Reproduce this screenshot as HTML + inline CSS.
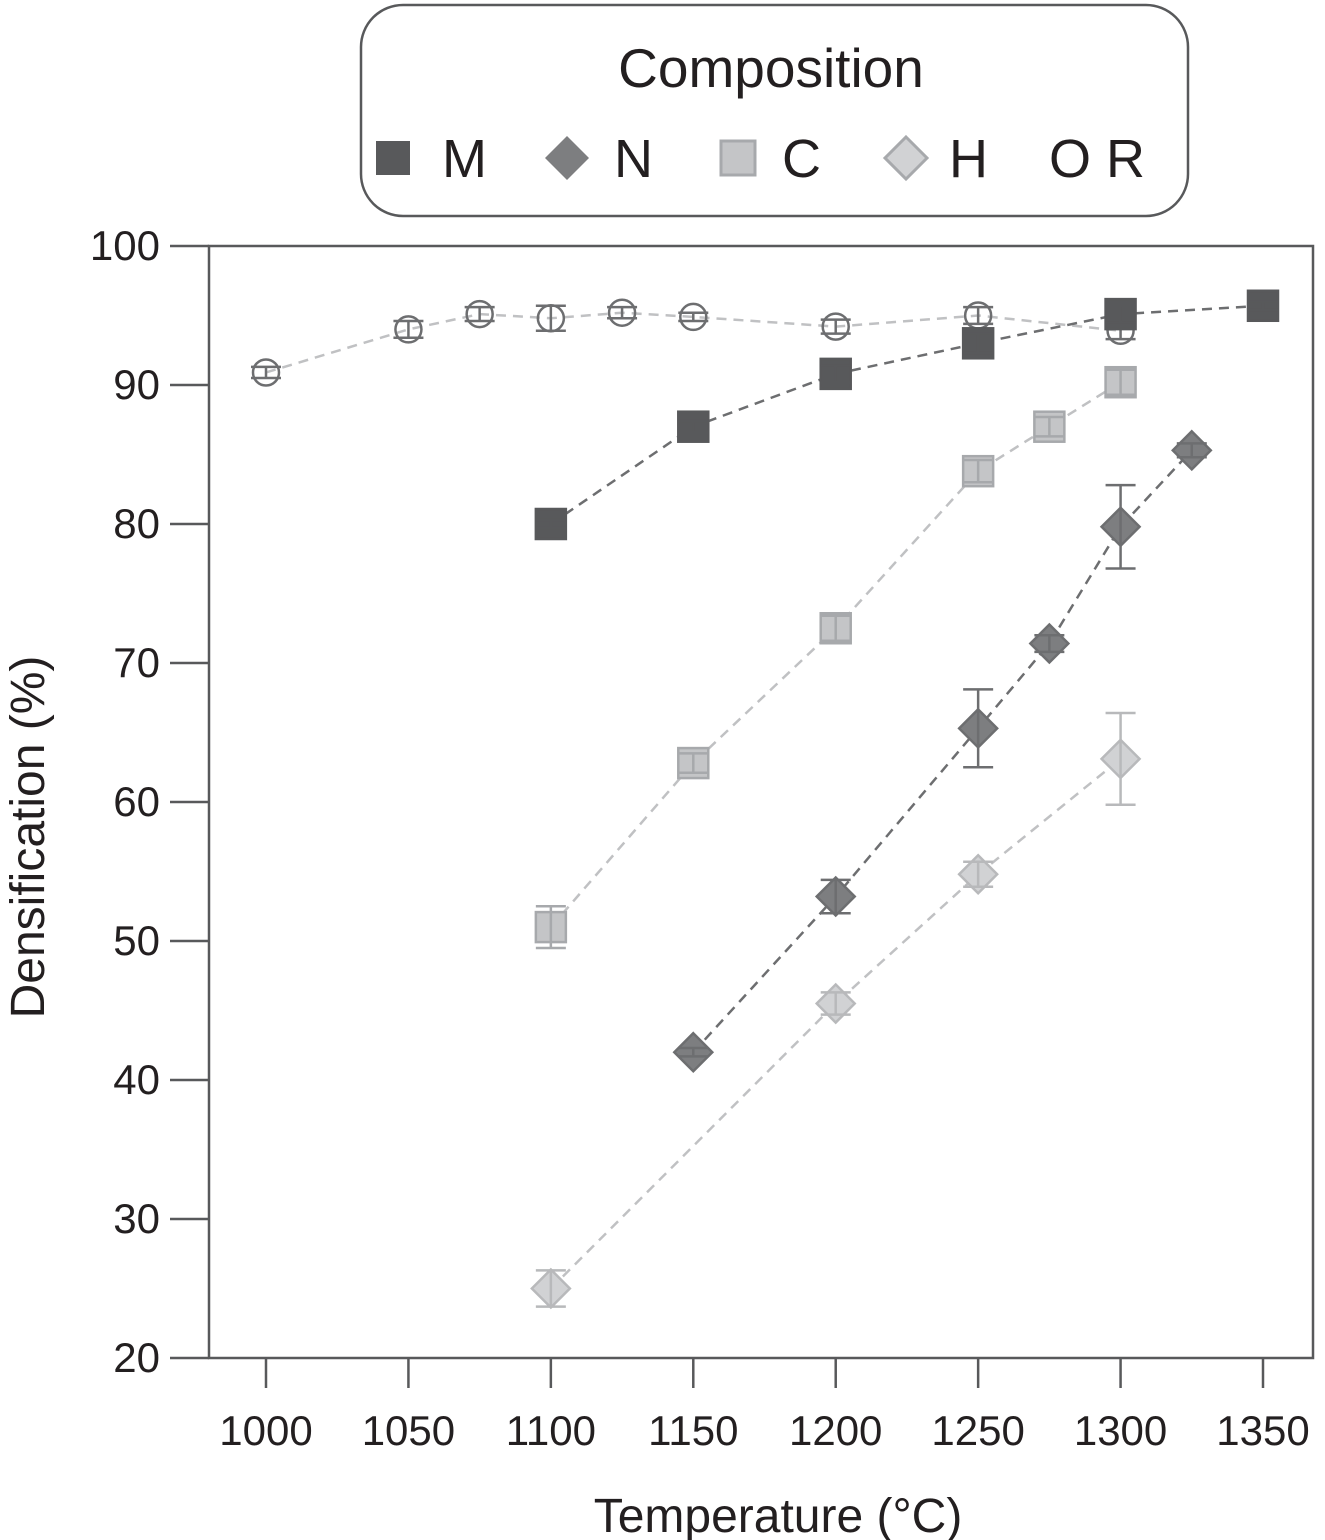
<!DOCTYPE html>
<html><head><meta charset="utf-8"><style>
body{margin:0;background:#fff;}
svg{display:block;font-family:"Liberation Sans",sans-serif;}
</style></head><body>
<svg id="chart" width="1325" height="1540" viewBox="0 0 1325 1540">
<g>
<rect x="361" y="5" width="827" height="211" rx="42" fill="#fff" stroke="#58595b" stroke-width="2.5"/>
<text x="771" y="87" font-size="55" text-anchor="middle" fill="#231f20">Composition</text>
<g><rect x="376" y="141" width="34" height="34" fill="#58595b"/><text x="442" y="177" font-size="54" fill="#231f20">M</text></g>
<g><polygon points="567,136 589,158 567,180 545,158" fill="#7d7e80"/><text x="614" y="177" font-size="54" fill="#231f20">N</text></g>
<g><rect x="721" y="141" width="34" height="34" fill="#c4c5c7" stroke="#a7a9ac" stroke-width="3"/><text x="782" y="177" font-size="54" fill="#231f20">C</text></g>
<g><polygon points="906,137 927,158 906,179 885,158" fill="#d1d2d4" stroke="#a7a9ac" stroke-width="3"/><text x="949" y="177" font-size="54" fill="#231f20">H</text></g>
<g><text x="1049" y="177" font-size="54" fill="#231f20">O R</text></g>
</g>
<rect x="209" y="246" width="1104" height="1112" fill="none" stroke="#58595b" stroke-width="2.5"/>
<g id="axes"></g>
<g id="series"></g>
<text x="778" y="1532" font-size="48" text-anchor="middle" fill="#231f20">Temperature (°C)</text>
<text transform="translate(44,837) rotate(-90)" font-size="48" text-anchor="middle" fill="#231f20">Densification (%)</text>
</svg>
<script>
const xTicks=[1000,1050,1100,1150,1200,1250,1300,1350];
const yTicks=[20,30,40,50,60,70,80,90,100];
const rX=[1000,1050,1075,1100,1125,1150,1200,1250,1300];
const rY=[90.9,94.0,95.1,94.8,95.2,94.9,94.2,95.0,93.9];
const rE=[0.4,0.6,0.5,0.9,0.4,0.3,0.5,0.6,0.6];
const mX=[1100,1150,1200,1250,1300,1350];
const mY=[80.0,87.0,90.8,93.0,95.1,95.7];
const mE=[0.3,0.4,0.6,0.7,0.6,0.3];
const nX=[1150,1200,1250,1275,1300,1325];
const nY=[42.0,53.2,65.3,71.4,79.8,85.3];
const nE=[0.3,1.2,2.8,0.6,3.0,0.5];
const cX=[1100,1150,1200,1250,1275,1300];
const cY=[51.0,62.8,72.5,83.8,87.0,90.2];
const cE=[1.5,0.7,0.9,0.8,0.7,0.9];
const hX=[1100,1200,1250,1300];
const hY=[25.0,45.5,54.8,63.1];
const hE=[1.3,0.8,0.9,3.3];
const NS='http://www.w3.org/2000/svg';
const xs=v=>266+(v-1000)*(1263-266)/350;
const ys=v=>1358-(v-20)*(1358-246)/80;
function mk(t,a,p){const e=document.createElementNS(NS,t);for(const k in a)e.setAttribute(k,a[k]);p.appendChild(e);return e;}
const ax=document.getElementById('axes');
xTicks.forEach(t=>{
 const l=mk('line',{x1:xs(t),x2:xs(t),y1:1358,y2:1388,stroke:'#58595b','stroke-width':2.5},ax);
 
 
 const tx=mk('text',{x:xs(t),y:1445,'font-size':42,'text-anchor':'middle',fill:'#231f20'},ax);tx.textContent=t;
 
 
});
yTicks.forEach(t=>{
 const l=mk('line',{x1:170,x2:209,y1:ys(t),y2:ys(t),stroke:'#58595b','stroke-width':2.5},ax);
 
 
 const tx=mk('text',{x:160,y:ys(t)+14,'font-size':42,'text-anchor':'end',fill:'#231f20'},ax);tx.textContent=t;
 
 
});
const sg=document.getElementById('series');
function series(name,X,Y,E,shape,fill,stroke,lineCol){
 const g=mk('g',{},sg);
 
 
 const pl=mk('polyline',{points:X.map((x,i)=>xs(x)+','+ys(Y[i])).join(' '),fill:'none',stroke:lineCol,'stroke-width':2.5,'stroke-dasharray':'10 7'},g);
 
 
 X.forEach((x,i)=>{
  const cx=xs(x),cy=ys(Y[i]),t=ys(Y[i]+E[i]),b=ys(Y[i]-E[i]);
  let m;
  if(shape==='sq')m=mk('rect',{x:cx-15,y:cy-15,width:30,height:30,fill:fill,stroke:stroke,'stroke-width':2.5},g);
  else if(shape==='di')m=mk('polygon',{points:`${cx},${cy-19} ${cx+19},${cy} ${cx},${cy+19} ${cx-19},${cy}`,fill:fill,stroke:stroke,'stroke-width':2.5},g);
  else m=mk('circle',{cx:cx,cy:cy,r:13,fill:'none',stroke:stroke,'stroke-width':2.5},g);
  
  
  const eb=mk('path',{d:`M${cx-15},${t}H${cx+15}M${cx},${t}V${b}M${cx-15},${b}H${cx+15}`,stroke:stroke,'stroke-width':2.5,fill:'none'},g);
  
  
 });
}
series('r',rX,rY,rE,'ci','none','#6d6e70','#c0c1c3');
series('h',hX,hY,hE,'di','#d1d2d4','#b8b9bb','#c0c1c3');
series('c',cX,cY,cE,'sq','#c4c5c7','#a7a9ac','#c0c1c3');
series('n',nX,nY,nE,'di','#7d7e80','#6d6e70','#6d6e70');
series('m',mX,mY,mE,'sq','#58595b','#58595b','#6d6e70');
</script>
</body></html>
